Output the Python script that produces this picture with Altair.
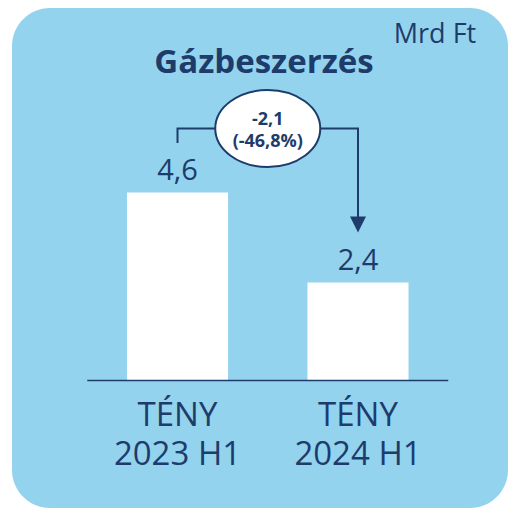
import altair as alt
import pandas as pd

# ---- data ----
categories = ["TÉNY 2023 H1", "TÉNY 2024 H1"]
label_line1 = ["TÉNY", "TÉNY"]
label_line2 = ["2023 H1", "2024 H1"]
values = [4.6, 2.4]
value_labels = ["4,6", "2,4"]
change_lines = ["-2,1", "(-46,8%)"]
title_text = "Gázbeszerzés"
unit_text = "Mrd Ft"

# ---- style / layout ----
DARK = "#1E3C6B"
LIGHT = "#94D3EE"
FONT = "Open Sans"
W, H = 500, 500
X_RANGE = [79.25, 440.25]
Y_ZERO = 372.5
PX_PER_UNIT = 40.87
Y_MAX = 5

xs = alt.Scale(type="band", domain=categories, range=X_RANGE, paddingInner=0.44, paddingOuter=0.22)
ys = alt.Scale(domain=[0, Y_MAX], range=[Y_ZERO, Y_ZERO - Y_MAX * PX_PER_UNIT], nice=False, zero=True)

df = pd.DataFrame({"cat": categories, "value": values, "label": value_labels,
                   "xl": [a + "\n" + b for a, b in zip(label_line1, label_line2)]})
one = pd.DataFrame({"a": [0]})

X = alt.X("cat:N", scale=xs, axis=None, bandPosition=0.5)

card = alt.Chart(one).mark_rect(fill=LIGHT, cornerRadius=38).encode(
    x=alt.value(4), x2=alt.value(W), y=alt.value(0), y2=alt.value(H))

bars = alt.Chart(df).mark_bar(color="white").encode(
    x=alt.X("cat:N", scale=xs, axis=None),
    y=alt.Y("value:Q", scale=ys, axis=None))

vlabels = alt.Chart(df).mark_text(font=FONT, fontSize=29, color=DARK, baseline="alphabetic", dy=-12).encode(
    x=X, y=alt.Y("value:Q", scale=ys, axis=None), text="label:N")

xlabels = alt.Chart(df).mark_text(font=FONT, fontSize=33, color=DARK, baseline="alphabetic",
                                  lineBreak="\n", lineHeight=39).encode(
    x=X, y=alt.value(418), text="xl:N")

baseline = alt.Chart(one).mark_rule(color=DARK, strokeWidth=1.5).encode(
    x=alt.value(X_RANGE[0]), x2=alt.value(X_RANGE[1]), y=alt.value(Y_ZERO))

title = alt.Chart(one).mark_text(font=FONT, fontSize=33, fontWeight="bold", color=DARK, baseline="alphabetic").encode(
    x=alt.value(256), y=alt.value(65), text=alt.value(title_text))
unit = alt.Chart(one).mark_text(font=FONT, fontSize=27, color=DARK, baseline="alphabetic").encode(
    x=alt.value(427), y=alt.value(35), text=alt.value(unit_text))

# bracket connector (pixel y positions)
bracket_df = pd.DataFrame({"cat": [categories[0], categories[0], categories[1], categories[1]],
                           "py": [135, 120.5, 120.5, 210], "ord": [0, 1, 2, 3]})
bracket = alt.Chart(bracket_df).mark_line(color=DARK, strokeWidth=2).encode(
    x=X, y=alt.Y("py:Q", scale=None, axis=None), order="ord:Q")

arrow = alt.Chart(df[df.cat == categories[1]]).mark_point(
    shape="M -1 -1 L 1 -1 L 0 1 Z", size=256, filled=True, color=DARK, opacity=1).encode(
    x=X, y=alt.value(216.5))

cx = (X_RANGE[0] + X_RANGE[1]) / 2
ellipse = alt.Chart(one).mark_point(
    shape="M -1 0 A 1 0.733 0 1 1 1 0 A 1 0.733 0 1 1 -1 0 Z",
    size=105 ** 2, filled=True, fill="white", stroke=DARK, strokeWidth=2,
    opacity=1, fillOpacity=1, strokeOpacity=1).encode(x=alt.value(cx), y=alt.value(120.5))

ch = alt.Chart(one).mark_text(font=FONT, fontSize=18, fontWeight="bold", color=DARK, baseline="alphabetic",
                              lineBreak="\n", lineHeight=22).encode(
    x=alt.value(cx), y=alt.value(117), text=alt.value(change_lines[0] + "\n" + change_lines[1]))

chart = alt.layer(card, bars, vlabels, xlabels, baseline, title, unit,
                  bracket, arrow, ellipse, ch).resolve_scale(
    y="independent").properties(
    width=W, height=H, padding=0, autosize=alt.AutoSizeParams(type="none")
).configure_view(strokeWidth=0)

chart.save("out.html", embed_options={"renderer": "svg", "actions": False})
